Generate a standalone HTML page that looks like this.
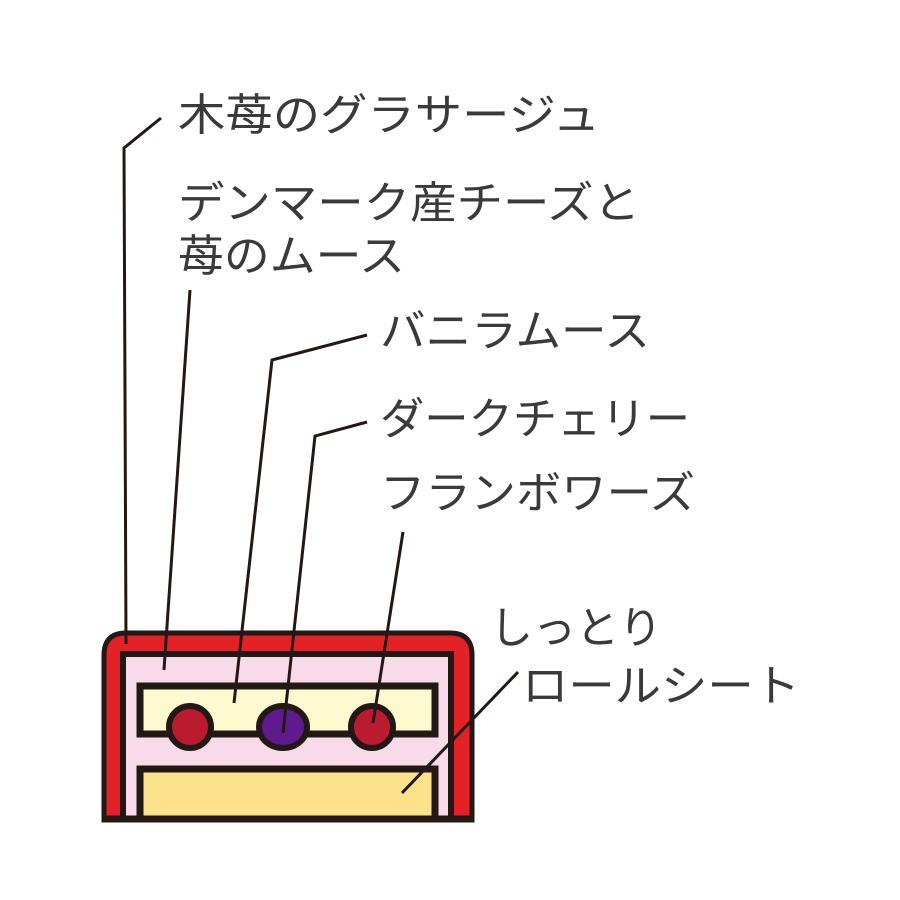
<!DOCTYPE html>
<html><head><meta charset="utf-8"><style>html,body{margin:0;padding:0;background:#fff}svg{display:block}</style></head>
<body>
<svg width="900" height="900" viewBox="0 0 900 900" xmlns="http://www.w3.org/2000/svg">
<g font-family="'Liberation Sans','Noto Sans CJK JP',sans-serif" font-size="44" fill="#3a3a3a">
<text x="178" y="130" textLength="422" lengthAdjust="spacingAndGlyphs">木苺のグラサージュ</text>
<text x="178" y="218" textLength="462" lengthAdjust="spacingAndGlyphs">デンマーク産チーズと</text>
<text x="178" y="271" textLength="227" lengthAdjust="spacingAndGlyphs">苺のムース</text>
<text x="380" y="346" textLength="270" lengthAdjust="spacingAndGlyphs">バニラムース</text>
<text x="380" y="434" textLength="310" lengthAdjust="spacingAndGlyphs">ダークチェリー</text>
<text x="380" y="508" textLength="315" lengthAdjust="spacingAndGlyphs">フランボワーズ</text>
<text x="490" y="643" textLength="172" lengthAdjust="spacingAndGlyphs">しっとり</text>
<text x="522" y="701" textLength="278" lengthAdjust="spacingAndGlyphs">ロールシート</text>
</g>
<path d="M104,820 L104,655 Q104,633 126,633 L450,633 Q472,633 472,655 L472,820 Z" fill="#e32228" stroke="#231816" stroke-width="5"/>
<path d="M123,820 L123,654 L451,654 L451,820" fill="#f8dbe8" stroke="#231816" stroke-width="6"/>
<rect x="140" y="686" width="295" height="48" fill="#fff9cf" stroke="#231816" stroke-width="7"/>
<path d="M140,818 L140,769 L435,769 L435,818" fill="#fde28e" stroke="#231816" stroke-width="7"/>
<line x1="102" y1="818" x2="474" y2="818" stroke="#231816" stroke-width="5"/>
<circle cx="190" cy="727" r="21" fill="#bb1b2e" stroke="#231816" stroke-width="6"/>
<ellipse cx="283" cy="727" rx="24" ry="21" fill="#5f1b8e" stroke="#231816" stroke-width="6"/>
<circle cx="372" cy="727" r="21" fill="#bb1b2e" stroke="#231816" stroke-width="6"/>
<g stroke="#231816" stroke-width="3" fill="none">
<polyline points="161,118 124,148 126,644"/>
<line x1="190" y1="290" x2="164" y2="670"/>
<polyline points="367,335 272,360 234,703"/>
<polyline points="367,422 315,436 283,733"/>
<line x1="403" y1="532" x2="373" y2="723"/>
<line x1="518" y1="672" x2="402" y2="793"/>
</g>
</svg>
</body></html>
